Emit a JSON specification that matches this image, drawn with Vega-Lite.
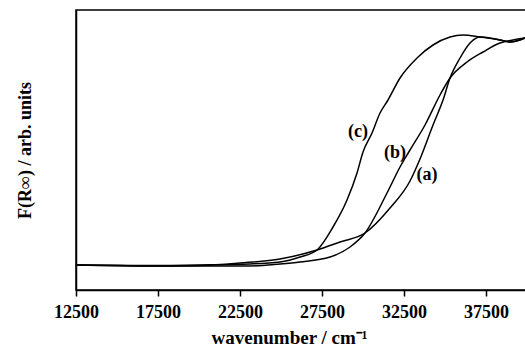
{
  "$schema": "https://vega.github.io/schema/vega-lite/v6.json",
  "width": 450,
  "height": 280,
  "autosize": {"type": "none"},
  "padding": {"left": 76, "top": 10, "right": 0, "bottom": 58},
  "background": "white",
  "config": {
    "view": {"stroke": "black", "strokeWidth": 1.5},
    "axis": {"grid": false, "domainColor": "black", "domainWidth": 1.5, "tickColor": "black", "labelColor": "black", "titleColor": "black", "labelFont": "Liberation Serif", "titleFont": "Liberation Serif", "labelFontWeight": "bold", "titleFontWeight": "bold"}
  },
  "datasets": {
    "curves": [
      {"s": "a", "x": 12500, "v": 25}, {"s": "a", "x": 15183, "v": 24.5}, {"s": "a", "x": 17013, "v": 24}, {"s": "a", "x": 20062, "v": 24.5}, {"s": "a", "x": 22501, "v": 27}, {"s": "a", "x": 24940, "v": 31}, {"s": "a", "x": 27196, "v": 40}, {"s": "a", "x": 28599, "v": 48}, {"s": "a", "x": 30123, "v": 57}, {"s": "a", "x": 31648, "v": 82}, {"s": "a", "x": 32867, "v": 109}, {"s": "a", "x": 33477, "v": 131}, {"s": "a", "x": 34270, "v": 165}, {"s": "a", "x": 34880, "v": 190}, {"s": "a", "x": 35307, "v": 212}, {"s": "a", "x": 35917, "v": 232}, {"s": "a", "x": 36527, "v": 247}, {"s": "a", "x": 37136, "v": 253}, {"s": "a", "x": 37746, "v": 252}, {"s": "a", "x": 38356, "v": 250}, {"s": "a", "x": 38966, "v": 248}, {"s": "a", "x": 39575, "v": 250}, {"s": "a", "x": 39880, "v": 252},
      {"s": "b", "x": 12500, "v": 25}, {"s": "b", "x": 17013, "v": 24}, {"s": "b", "x": 20062, "v": 24}, {"s": "b", "x": 23111, "v": 24}, {"s": "b", "x": 24940, "v": 26}, {"s": "b", "x": 26160, "v": 28}, {"s": "b", "x": 27989, "v": 33}, {"s": "b", "x": 29209, "v": 43}, {"s": "b", "x": 30123, "v": 57}, {"s": "b", "x": 31465, "v": 97}, {"s": "b", "x": 32258, "v": 123}, {"s": "b", "x": 32867, "v": 140}, {"s": "b", "x": 33782, "v": 165}, {"s": "b", "x": 34697, "v": 195}, {"s": "b", "x": 35307, "v": 212}, {"s": "b", "x": 36344, "v": 228}, {"s": "b", "x": 37319, "v": 238}, {"s": "b", "x": 38356, "v": 247}, {"s": "b", "x": 39148, "v": 250}, {"s": "b", "x": 39880, "v": 252},
      {"s": "c", "x": 12500, "v": 25}, {"s": "c", "x": 17013, "v": 24.5}, {"s": "c", "x": 20062, "v": 25}, {"s": "c", "x": 23111, "v": 26}, {"s": "c", "x": 24940, "v": 28}, {"s": "c", "x": 26160, "v": 33}, {"s": "c", "x": 27196, "v": 40}, {"s": "c", "x": 28172, "v": 63}, {"s": "c", "x": 29026, "v": 90}, {"s": "c", "x": 29636, "v": 117}, {"s": "c", "x": 30001, "v": 138}, {"s": "c", "x": 30550, "v": 157}, {"s": "c", "x": 31038, "v": 177}, {"s": "c", "x": 31526, "v": 190}, {"s": "c", "x": 32258, "v": 212}, {"s": "c", "x": 33294, "v": 232}, {"s": "c", "x": 34270, "v": 245}, {"s": "c", "x": 35307, "v": 253}, {"s": "c", "x": 36100, "v": 255}, {"s": "c", "x": 37136, "v": 253}, {"s": "c", "x": 38356, "v": 250}, {"s": "c", "x": 38966, "v": 248}, {"s": "c", "x": 39880, "v": 252}
    ],
    "labels": [
      {"t": "(c)", "x": 29697, "v": 158},
      {"t": "(b)", "x": 31953, "v": 137},
      {"t": "(a)", "x": 33904, "v": 115}
    ]
  },
  "layer": [
    {
      "data": {"name": "curves"},
      "mark": {"type": "line", "color": "black", "strokeWidth": 1.5, "interpolate": "monotone", "clip": true},
      "encoding": {
        "x": {"field": "x", "type": "quantitative", "scale": {"domain": [12500, 39940], "nice": false, "zero": false},
          "axis": {"values": [12500, 17500, 22500, 27500, 32500, 37500], "format": "d", "tickSize": 6, "tickWidth": 1.5, "labelFontSize": 18, "labelPadding": 7, "labelFlush": false, "labelOverlap": false, "title": "wavenumber / cm\u207b\u00b9", "titleFontSize": 19, "titlePadding": 7, "titleX": 213}},
        "y": {"field": "v", "type": "quantitative", "scale": {"domain": [0, 280], "nice": false},
          "axis": {"ticks": false, "labels": false, "title": "F(R\u221e) / arb. units", "titleFontSize": 18, "titlePadding": 42}},
        "detail": {"field": "s"}
      }
    },
    {
      "data": {"name": "labels"},
      "mark": {"type": "text", "font": "Liberation Serif", "fontWeight": "bold", "fontSize": 18, "color": "black"},
      "encoding": {
        "x": {"field": "x", "type": "quantitative"},
        "y": {"field": "v", "type": "quantitative"},
        "text": {"field": "t"}
      }
    }
  ]
}
